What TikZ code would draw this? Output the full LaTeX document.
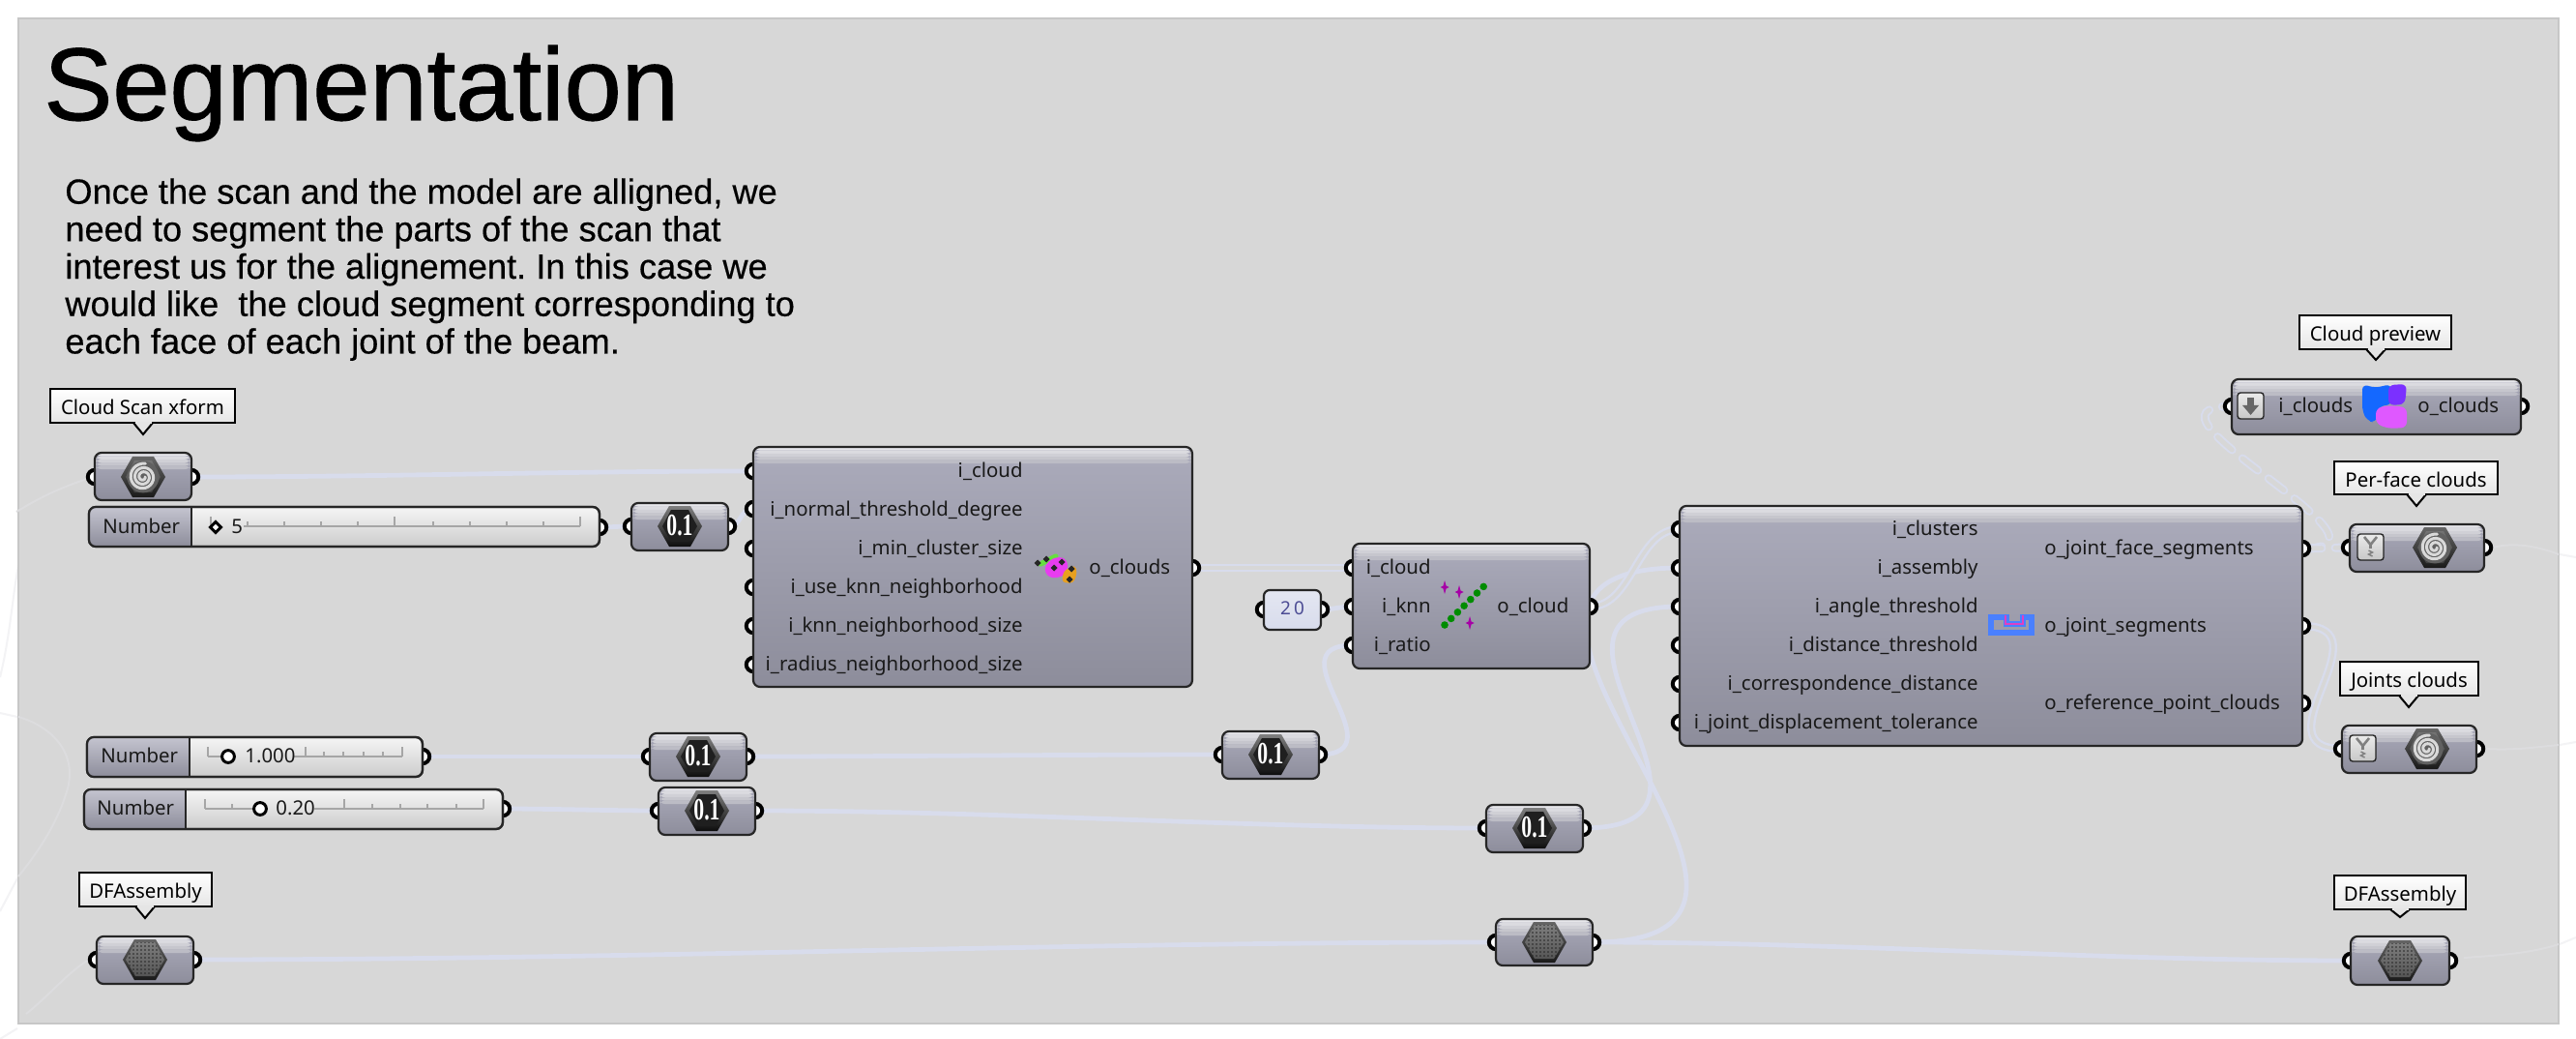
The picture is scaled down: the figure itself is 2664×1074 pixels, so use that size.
\documentclass[tikz,border=0pt]{standalone}
\usepackage{fontspec}
\setmainfont{Liberation Sans}
\newfontfamily\ghf{Noto Sans}
\newfontfamily\ghnum{Liberation Serif}
\newfontfamily\titlef[FakeBold=1]{Liberation Sans}
\newfontfamily\descf[FakeBold=0.4]{Liberation Sans}
\usetikzlibrary{calc}
\pgfdeclarelayer{bgl}\pgfdeclarelayer{wirel}\pgfdeclarelayer{portl}
\pgfsetlayers{bgl,wirel,portl,main}
\definecolor{panelc}{HTML}{D7D7D7}
\definecolor{wirec}{HTML}{D8DCEC}
\definecolor{edgec}{HTML}{262626}
\definecolor{bodyt}{HTML}{ABABBB}
\definecolor{bodyb}{HTML}{8D8D9B}
\definecolor{faintin}{HTML}{DCDCDE}
\definecolor{faintout}{HTML}{F3F3F5}
\newcounter{tc}
\tikzset{
 ghbody/.style={rectangle,rounded corners=3.5pt,draw=edgec,line width=1.1pt,inner sep=0pt,outer sep=0pt,
   top color=bodyt,bottom color=bodyb,
   path picture={\foreach \s/\cc in {0/E6E6EA,1/DBDBE0,2/D0D0D6,3/C6C6CD,4/BCBCC5}{
       \definecolor{stripc}{HTML}{\cc}
       \fill[stripc] ([yshift=-\s*1.7pt]path picture bounding box.north west) rectangle ([yshift=-\s*1.7pt-1.75pt]path picture bounding box.north east);}}},
 ghslide/.style={rectangle,rounded corners=3.5pt,draw=edgec,line width=1.1pt,inner sep=0pt,outer sep=0pt,
   top color=white!96!black,bottom color=black!20},
 ghwire/.style={draw=wirec,line width=2.4pt},
 ghlist/.style={draw=wirec,line width=1.2pt,double=panelc,double distance=1.8pt},
 ghdash/.style={draw=wirec,line width=1pt,double=panelc,double distance=2.4pt,line cap=round,dash pattern=on 10pt off 7pt},
 ghfaint/.style={draw=faintin,line width=1pt},
 ghfaintout/.style={draw=faintout,line width=1pt},
 ghport/.style={draw=black,fill=white,line width=2pt},
 ghtxt/.style={font=\ghf\fontsize{10.2}{12}\selectfont,text=black!90,inner sep=0pt},
 ghbubble/.style={rectangle,draw=black,line width=1pt,top color=white,bottom color=black!10,inner sep=0pt,outer sep=0pt,
   font=\ghf\fontsize{10.2}{12}\selectfont,text=black},
 ghtick/.style={draw=black!35,line width=.6pt},
 ghgrip/.style={draw=black,fill=white,line width=1.5pt}
}
\newcommand\ghbox[5]{%
 \pgfmathsetmacro\bxw{(#4-#2)*0.5}\pgfmathsetmacro\bxh{(#5-#3)*0.5}%
 \node[ghbody,minimum width=\bxw pt,minimum height=\bxh pt] (#1) at ({(#2+#4)/2},{(#3+#5)/2}) {};}
\newcommand\ghp[3]{\coordinate (#1) at (#2,#3);%
 \begin{pgfonlayer}{portl}\draw[ghport] (#1) circle [radius=3.6pt];\end{pgfonlayer}}
\newcommand\tr[3]{\stepcounter{tc}\node[ghtxt,anchor=base east] (t\arabic{tc}) at (#1,#2+6.5) {#3};}
\newcommand\tl[3]{\stepcounter{tc}\node[ghtxt,anchor=base west] (t\arabic{tc}) at (#1,#2+6.5) {#3};}
\newcommand\wl[4][ghwire]{\begin{pgfonlayer}{wirel}\draw[#1] (#2) .. controls ([xshift=#4*0.5pt]#2) and ([xshift=-#4*0.5pt]#3) .. (#3);\end{pgfonlayer}}
\newcommand\bub[8]{% name x1 y1 x2 y2 tipx tipy text
 \pgfmathsetmacro\bxw{(#4-#2)*0.5}\pgfmathsetmacro\bxh{(#5-#3)*0.5}%
 \node[ghbubble,minimum width=\bxw pt,minimum height=\bxh pt,text depth=0pt,text height=9pt] (#1) at ({(#2+#4)/2},{(#3+#5)/2}) {#8};
 \filldraw[draw=black,fill=black!10,line width=1pt] (#6-10,#5) -- (#6,#7) -- (#6+10,#5);
 \fill[black!10] (#6-8.5,#5-1) rectangle (#6+8.5,#5+0.6);}
\newcommand\hexshape{(-23,0) -- (-11,-21) -- (11,-21) -- (23,0) -- (11,21) -- (-11,21) -- cycle}
\newcommand\hexinner{(-18,0) -- (-9,-17) -- (9,-17) -- (18,0) -- (9,16) -- (-9,16) -- cycle}
\newcommand\hexspiral[2]{\begin{scope}[shift={(#1,#2)}]
 \shade[top color=black!60,bottom color=black!90] \hexshape;
 \shade[top color=black!55,bottom color=black!75] \hexinner;
 \fill[black!62] (0,0) circle [radius=8.2pt];
 \draw[black!15,line width=1.5pt,line cap=round] plot[smooth,domain=0:1000,samples=70] ({(2+\x/1000*12)*cos(\x)},{(2+\x/1000*12)*sin(\x)});
 \end{scope}}
\newcommand\hexnum[2]{\begin{scope}[shift={(#1,#2)}]
 \shade[top color=black!50,bottom color=black!95] \hexshape;
 \fill[black!88] \hexinner;
 \stepcounter{tc}\node[inner sep=0pt,text=white,font=\ghnum\bfseries\fontsize{16}{16}\selectfont] (t\arabic{tc}) at (0,-1) {\scalebox{0.68}[1]{0.1}};
 \end{scope}}
\newcommand\hexmesh[2]{\begin{scope}[shift={(#1,#2)}]
 \shade[top color=black!60,bottom color=black!90] \hexshape;
 \begin{scope}\clip (-20,0) -- (-10,-18) -- (10,-18) -- (20,0) -- (10,17) -- (-10,17) -- cycle;
 \shade[top color=black!50,bottom color=black!68] (-22,-20) rectangle (22,20);
 \foreach \a in {-20,-16,...,20}{\foreach \b in {-18,-14,...,18}{\fill[black!85] (\a,\b) circle [radius=0.45pt];}}
 \end{scope}\end{scope}}
\newcommand\ybox[2]{\begin{scope}[shift={(#1,#2)}]
 \filldraw[draw=edgec,line width=.7pt,top color=black!8,bottom color=black!22,rounded corners=1.5pt] (0,0) rectangle (27,27);
 \draw[black!50,line width=1.3pt] (7,3) -- (13.5,11) -- (20,3);
 \draw[black!50,line width=1.3pt] (13.5,11) -- (13.5,15);
 \draw[black!50,line width=.7pt] (11.5,17) -- (15.5,19) -- (11.5,21) -- (15.5,23);
 \end{scope}}
\begin{document}
\begin{tikzpicture}[x=0.5pt,y=-0.5pt]
\useasboundingbox (0,0) rectangle (2664,1074);
\begin{pgfonlayer}{bgl}
\fill[white] (0,0) rectangle (2664,1074);
\coordinate (fa1) at (0,700);\coordinate (fa2) at (0,737);\coordinate (fa3) at (0,942);\coordinate (fa4) at (0,1074);
\coordinate (fb1) at (2664,576);\coordinate (fb2) at (2664,767);\coordinate (fb3) at (2664,969);
\end{pgfonlayer}
\begin{pgfonlayer}{bgl}
\draw[ghfaintout] (fa1) .. controls (20,620) and (10,540) .. (60,510);
\draw[ghfaintout] (fa2) -- (18,741);
\draw[ghfaintout] (fa3) -- (18,908);
\draw[ghfaintout] (fa4) -- (18,1063);
\draw[ghfaintout] (2647,573) -- (fb1);
\draw[ghfaintout] (2647,770) -- (fb2);
\draw[ghfaintout] (2647,976) -- (fb3);
\filldraw[draw=black!22,fill=panelc,line width=1pt] (19,19) rectangle (2646,1058);
\draw[ghfaint] (17,529) .. controls (40,515) and (60,505) .. (90,495);
\draw[ghfaint] (19,741) .. controls (50,750) and (80,775) .. (70,815);
\draw[ghfaint] (19,906) .. controls (40,880) and (60,850) .. (70,815);
\draw[ghfaint] (27,1048) .. controls (50,1030) and (70,1005) .. (92,992);
\draw[ghfaint] (2578,566) .. controls (2600,560) and (2625,565) .. (2646,573);
\draw[ghfaint] (2570,774) .. controls (2600,776) and (2625,772) .. (2646,770);
\draw[ghfaint] (2548,990) .. controls (2580,988) and (2620,985) .. (2646,976);
\end{pgfonlayer}

% title and description
\node[inner sep=0pt,anchor=base west,font=\titlef\fontsize{53.2}{56}\selectfont] (title) at (45,124) {Segmentation};
\node[inner sep=0pt,anchor=north west,align=left,font=\descf\fontsize{18.1}{19.35}\selectfont\frenchspacing] (desc) at (67,184)
 {Once the scan and the model are alligned, we\\need to segment the parts of the scan that\\interest us for the alignement. In this case we\\would like~~the cloud segment corresponding to\\each face of each joint of the beam.};

% bubbles
\bub{lbA}{52}{402}{243}{437}{148}{449}{Cloud Scan xform}
\bub{lbB}{82}{902}{219}{937}{150}{949}{DFAssembly}
\bub{lbC}{2378}{326}{2535}{361}{2457}{372}{Cloud preview}
\bub{lbD}{2414}{477}{2583}{511}{2499}{523}{Per-face clouds}
\bub{lbE}{2420}{684}{2563}{719}{2491}{731}{Joints clouds}
\bub{lbF}{2414}{905}{2550}{940}{2482}{948}{DFAssembly}

% cloud scan param
\ghbox{pScan}{98}{468}{198}{517}\ghp{pScanI}{98}{493}\ghp{pScanO}{198}{493}\hexspiral{148}{493}
% sliders
\node[ghslide,minimum width=264pt,minimum height=20.5pt] (sA) at (356,544.5) {};
\begin{scope}\clip[rounded corners=3.5pt] (92,524) rectangle (620,565);\shade[top color=bodyt!70!white,bottom color=bodyb] (92,524) rectangle (198,565);\end{scope}
\draw[draw=edgec,line width=1.1pt,rounded corners=3.5pt] (92,524) rectangle (620,565);\draw[edgec,line width=.9pt] (198,524) -- (198,565);
\tl{106}{545}{Number}
\draw[ghtick] (252,544) -- (600,544);
\foreach \k in {256,294,332,370,448,486,524,562}{\draw[ghtick] (\k,544) -- (\k,539);}
\foreach \k in {600,408}{\draw[ghtick] (\k,544) -- (\k,534);}
\draw[ghtick] (218,534) -- (218,544);
\draw[ghgrip] (223,539.5) -- (228.5,545) -- (223,550.5) -- (217.5,545) -- cycle;
\tl{239}{545}{5}
\ghp{sAO}{620}{545}

\node[ghslide,minimum width=173.5pt,minimum height=20.5pt] (sB) at (263.5,782.5) {};
\begin{scope}\clip[rounded corners=3.5pt] (90,762) rectangle (437,803);\shade[top color=bodyt!70!white,bottom color=bodyb] (90,762) rectangle (196,803);\end{scope}
\draw[draw=edgec,line width=1.1pt,rounded corners=3.5pt] (90,762) rectangle (437,803);\draw[edgec,line width=.9pt] (196,762) -- (196,803);
\tl{104}{782}{Number}
\draw[ghtick] (215,782) -- (228,782);\draw[ghtick] (304,782) -- (416,782);
\foreach \k in {235,335,355,376,396}{\draw[ghtick] (\k,782) -- (\k,777);}
\foreach \k in {215,316,416}{\draw[ghtick] (\k,782) -- (\k,772);}
\draw[ghgrip] (236,782) circle [radius=3.2pt];
\tl{253}{782}{1.000}
\ghp{sBO}{437}{782}

\node[ghslide,minimum width=216.5pt,minimum height=20.5pt] (sC) at (303.5,836.5) {};
\begin{scope}\clip[rounded corners=3.5pt] (87,816) rectangle (520,857);\shade[top color=bodyt!70!white,bottom color=bodyb] (87,816) rectangle (192,857);\end{scope}
\draw[draw=edgec,line width=1.1pt,rounded corners=3.5pt] (87,816) rectangle (520,857);\draw[edgec,line width=.9pt] (192,816) -- (192,857);
\tl{100}{836}{Number}
\draw[ghtick] (212,836) -- (262,836);\draw[ghtick] (325,836) -- (500,836);
\foreach \k in {240,385,414,442,472}{\draw[ghtick] (\k,836) -- (\k,831);}
\foreach \k in {212,356,500}{\draw[ghtick] (\k,836) -- (\k,826);}
\draw[ghgrip] (269,836) circle [radius=3.2pt];
\tl{285}{836}{0.20}
\ghp{sCO}{520}{836}

% number params
\ghbox{nA}{653}{520}{753}{569}\ghp{nAI}{653}{544}\ghp{nAO}{753}{544}\hexnum{703}{544}
\ghbox{nB}{672}{758}{772}{807}\ghp{nBI}{672}{782}\ghp{nBO}{772}{782}\hexnum{722}{782}
\ghbox{nC}{681}{814}{781}{863}\ghp{nCI}{681}{838}\ghp{nCO}{781}{838}\hexnum{731}{838}
\ghbox{nD}{1264}{756}{1364}{805}\ghp{nDI}{1264}{780}\ghp{nDO}{1364}{780}\hexnum{1314}{780}
\ghbox{nE}{1537}{832}{1637}{881}\ghp{nEI}{1537}{856}\ghp{nEO}{1637}{856}\hexnum{1587}{856}
% assembly params
\ghbox{aA}{100}{968}{200}{1017}\ghp{aAI}{100}{992}\ghp{aAO}{200}{992}\hexmesh{150}{992}
\ghbox{aB}{1547}{950}{1647}{998}\ghp{aBI}{1547}{974}\ghp{aBO}{1647}{974}\hexmesh{1597}{974}
\ghbox{aC}{2431}{968}{2533}{1018}\ghp{aCI}{2431}{993}\ghp{aCO}{2533}{993}\hexmesh{2482}{993}

% component 1
\ghbox{cA}{779}{462}{1233}{710}
\foreach \n/\yy in {1/487,2/526,3/567,4/607,5/647,6/687}{\ghp{cAI\n}{779}{\yy}}
\ghp{cAO}{1233}{587}
\tr{1058}{487}{i\_cloud}
\tr{1058}{527}{i\_normal\_threshold\_degree}
\tr{1058}{567}{i\_min\_cluster\_size}
\tr{1058}{607}{i\_use\_knn\_neighborhood}
\tr{1058}{647}{i\_knn\_neighborhood\_size}
\tr{1058}{687}{i\_radius\_neighborhood\_size}
\tl{1126}{587}{o\_clouds}
% icon 1
\definecolor{icgreen}{HTML}{66E040}\definecolor{icmag}{HTML}{E83CF0}\definecolor{icor}{HTML}{E8A020}
\draw[icgreen,line width=2.6pt,line cap=round] (1076,583) -- (1092,575);
\fill[icmag,rounded corners=3pt] (1080,584) -- (1092,575) -- (1104,578) -- (1104,592) -- (1094,598) -- (1082,596) -- cycle;
\fill[icor,rounded corners=2pt] (1100,590) -- (1112,584) -- (1114,592) -- (1110,603) -- (1098,602) -- cycle;
\foreach \a/\b in {1073/582,1082/578,1090/587,1098/581,1108/588,1106/599}{\fill[black!85] (\a-3.5,\b) -- (\a,\b-3.5) -- (\a+3.5,\b) -- (\a,\b+3.5) -- cycle;}

% 20 box
\node[rectangle,rounded corners=3pt,draw=edgec,line width=1.1pt,top color=wirec!70!white,bottom color=wirec,minimum width=29.5pt,minimum height=20.5pt,inner sep=0pt] (num20) at (1336.5,630.5) {};
\stepcounter{tc}\node[inner sep=0pt,text=black!60!blue!70!white,font=\ghf\fontsize{9.5}{11}\selectfont] (t\arabic{tc}) at (1336.5,629) {\addfontfeature{LetterSpace=16}20};
\ghp{numI}{1307}{630}\ghp{numO}{1366}{630}

% component 2
\ghbox{cB}{1399}{562}{1644}{691}
\foreach \n/\yy in {1/587,2/627,3/667}{\ghp{cBI\n}{1399}{\yy}}
\ghp{cBO}{1644}{627}
\tr{1480}{587}{i\_cloud}
\tr{1480}{627}{i\_knn}
\tr{1480}{667}{i\_ratio}
\tl{1548}{627}{o\_cloud}
\foreach \k in {0,1,...,6}{\fill[green!55!black] ({1494+\k*6.7},{646-\k*6.6}) circle [radius=1.9pt];}
\foreach \a/\b in {1494/607,1509/612,1520/644}{\fill[violet!70!magenta] (\a-4.5,\b) -- (\a-1.5,\b-1.5) -- (\a,\b-7) -- (\a+1.5,\b-1.5) -- (\a+4.5,\b) -- (\a+1.5,\b+1.5) -- (\a,\b+7) -- (\a-1.5,\b+1.5) -- cycle;}

% component 3
\ghbox{cC}{1737}{523}{2381}{771}
\foreach \n/\yy in {1/547,2/587,3/627,4/667,5/707,6/747}{\ghp{cCI\n}{1737}{\yy}}
\ghp{cCO1}{2381}{567}\ghp{cCO2}{2381}{647}\ghp{cCO3}{2381}{727}
\tr{2046}{547}{i\_clusters}
\tr{2046}{587}{i\_assembly}
\tr{2046}{627}{i\_angle\_threshold}
\tr{2046}{667}{i\_distance\_threshold}
\tr{2046}{707}{i\_correspondence\_distance}
\tr{2046}{747}{i\_joint\_displacement\_tolerance}
\tl{2114}{567}{o\_joint\_face\_segments}
\tl{2114}{647}{o\_joint\_segments}
\tl{2114}{727}{o\_reference\_point\_clouds}
\definecolor{icblue}{HTML}{4A80FF}\definecolor{icpink}{HTML}{E040C0}
\draw[icblue,line width=2.6pt] (2059,638) -- (2075,638) -- (2075,645) -- (2092,645) -- (2092,638) -- (2101,638) -- (2101,654) -- (2059,654) -- cycle;
\draw[icpink,line width=.9pt] (2074,636) -- (2074,645) -- (2092,645) -- (2092,636);

% cloud preview
\ghbox{cD}{2308}{392}{2607}{449}
\ghp{cDI}{2308}{420}\ghp{cDO}{2607}{420}
\filldraw[draw=edgec,line width=.7pt,top color=black!8,bottom color=black!22,rounded corners=1.5pt] (2314,406) rectangle (2341,433);
\fill[black!60] (2324,411) rectangle (2331,420);\fill[black!60] (2319,419) -- (2336,419) -- (2327.5,429) -- cycle;
\tl{2356}{420}{i\_clouds}
\tl{2500}{420}{o\_clouds}
\definecolor{pvblue}{HTML}{1468FF}\definecolor{pvviolet}{HTML}{7B30FF}\definecolor{pvpink}{HTML}{DF58FF}
\fill[pvblue,rounded corners=3pt] (2443,397) -- (2456,401) -- (2473,397) -- (2474,418) -- (2460,420) -- (2457,437) -- (2448,435) -- (2443,425) -- cycle;
\fill[pvviolet,rounded corners=3pt] (2470,398) -- (2489,397) -- (2487,418) -- (2470,419) -- cycle;
\fill[pvpink,rounded corners=3pt] (2457,422) -- (2470,419) -- (2489,421) -- (2489,442) -- (2470,443) -- (2457,438) -- cycle;

% per-face
\ghbox{cE}{2430}{542}{2569}{591}
\ghp{cEI}{2430}{566}\ghp{cEO}{2569}{566}
\ybox{2438}{552}\hexspiral{2518}{566}
% joints
\ghbox{cF}{2422}{750}{2561}{799}
\ghp{cFI}{2422}{774}\ghp{cFO}{2561}{774}
\ybox{2430}{760}\hexspiral{2510}{774}

% wires
\wl{pScanO}{cAI1}{200}
\wl{sAO}{nAI}{15}
\wl{nAO}{cAI2}{15}
\wl{sBO}{nBI}{80}
\wl{nBO}{nDI}{160}
\wl{sCO}{nCI}{50}
\wl{nCO}{nEI}{250}
\wl{aAO}{aBI}{450}
\wl{aBO}{aCI}{260}
\wl{numO}{cBI2}{15}
\wl{nDO}{cBI3}{85}
\wl{nEO}{cCI3}{190}
\wl{aBO}{cCI2}{295}
\wl[ghlist]{cAO}{cBI1}{55}
\wl[ghlist]{cBO}{cCI1}{45}
\wl[ghlist]{cCO2}{cFI}{90}
\wl[ghdash]{cCO1}{cDI}{120}
\wl[ghdash]{cCO1}{cEI}{16}
\end{tikzpicture}
\end{document}
